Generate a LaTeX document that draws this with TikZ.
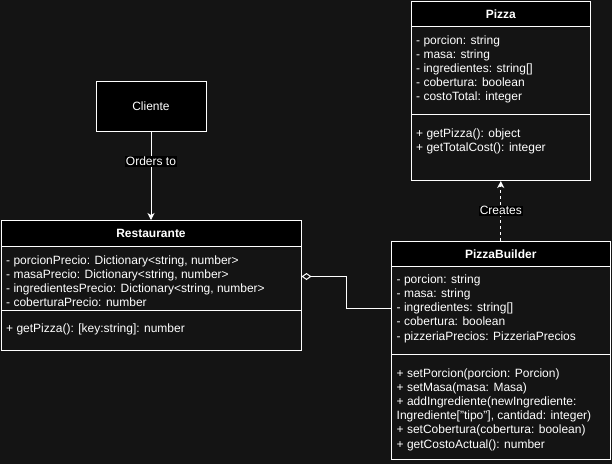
\documentclass[tikz,border=0pt]{standalone}
\usepackage{fontspec}
\setmainfont{Liberation Sans}
\usetikzlibrary{arrows.meta}
\definecolor{canvas}{RGB}{20,20,20}
\newcommand{\memfont}{\fontsize{12}{14.2}\selectfont}
\begin{document}
\begin{tikzpicture}[x=1pt,y=-1pt,
  every node/.style={text=white, font=\memfont},
  part/.style={draw=white, line width=1pt, fill=canvas, inner sep=0pt, anchor=north west},
  head/.style={part, fill=black, font=\memfont\bfseries},
  members/.style={anchor=north west, align=left, inner sep=0pt},
  conn/.style={draw=white, line width=1pt},
  tip/.style={-{Stealth[length=7pt,width=7pt,inset=2pt]}},
  lbl/.style={fill=black, inner sep=1pt}
]
\fill[canvas] (0,0) rectangle (612,464);
\useasboundingbox (0,0) rectangle (612,464);

% Cliente
\node[part, fill=black, minimum width=110, minimum height=50] (cliente) at (95.5,80.5) {};
\node at (cliente.center) {Cliente};

% Pizza class
\node[head, minimum width=179.5, minimum height=25.5] (pizza) at (410.5,0.5) {Pizza};
\node[part, minimum width=179.5, minimum height=88] (pizzaattr) at (410.5,26) {};
\node[part, minimum width=179.5, minimum height=66] (pizzameth) at (410.5,114) {};
\node[members] (pizzaattrtxt) at (416,33.9) {\strut- porcion: string\\- masa: string\\- ingredientes: string[]\\- cobertura: boolean\\- costoTotal: integer};
\node[members] (pizzamethtxt) at (416,126.9) {\strut+ getPizza(): object\\+ getTotalCost(): integer};

% Restaurante class
\node[head, minimum width=300, minimum height=26] (rest) at (0.5,220) {Restaurante};
\node[part, minimum width=300, minimum height=64] (restattr) at (0.5,246) {};
\node[part, minimum width=300, minimum height=39.5] (restmeth) at (0.5,310) {};
\node[members] (restattrtxt) at (6,253.9) {\strut- porcionPrecio: Dictionary<string, number>\\- masaPrecio: Dictionary<string, number>\\- ingredientesPrecio: Dictionary<string, number>\\- coberturaPrecio: number};
\node[members] (restmethtxt) at (6,321.9) {\strut+ getPizza(): [key:string]: number};

% PizzaBuilder class
\node[head, minimum width=219.5, minimum height=25.5] (pb) at (390.5,240.5) {PizzaBuilder};
\node[part, minimum width=219.5, minimum height=88] (pbattr) at (390.5,266) {};
\node[part, minimum width=219.5, minimum height=105] (pbmeth) at (390.5,354) {};
\node[members] (pbattrtxt) at (396.5,273.2) {\strut- porcion: string\\- masa: string\\- ingredientes: string[]\\- cobertura: boolean\\- pizzeriaPrecios: PizzeriaPrecios};
\node[members] (pbmethtxt) at (396.5,366.9) {\strut+ setPorcion(porcion: Porcion)\\+ setMasa(masa: Masa)\\+ addIngrediente(newIngrediente:\\Ingrediente["tipo"], cantidad: integer)\\+ setCobertura(cobertura: boolean)\\+ getCostoActual(): number};

% Relations
\draw[conn, tip] (cliente) -- node[lbl, pos=0.34] {Orders to} (rest);
\draw[conn, tip, dash pattern=on 3pt off 3pt] (pb) -- node[lbl, pos=0.5] {Creates} (pizzameth);
\draw[conn, {Diamond[open,length=10pt,width=7pt]}-] ([yshift=2pt]restattr.east) -- ++(45,0) |- ([yshift=2pt]pbattr.west);
\end{tikzpicture}
\end{document}
